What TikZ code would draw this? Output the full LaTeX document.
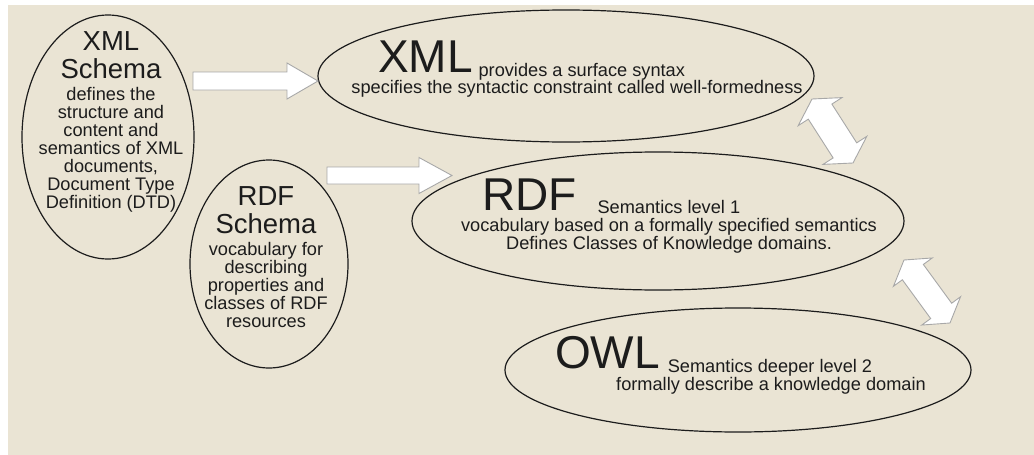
\documentclass[tikz,border=0pt]{standalone}
\usepackage{fontspec}
\setmainfont{Liberation Sans}
\usetikzlibrary{shapes.geometric,calc}
\definecolor{paper}{HTML}{EAE4D4}
\definecolor{ink}{HTML}{1C1C1C}
\definecolor{arrowedge}{HTML}{A8A8A8}
\begin{document}
\begin{tikzpicture}[x=1pt,y=-1pt,
  bubble/.style={ellipse, draw=ink, line width=1.2pt, inner sep=0pt, outer sep=0pt},
  label/.style={inner sep=0pt, outer sep=0pt, text=ink, anchor=base},
  titlefont/.style={font=\fontsize{27.5}{28}\selectfont},
  bodyfont/.style={font=\fontsize{18.2}{18}\selectfont},
  blockarrow/.style={fill=white, draw=arrowedge, line width=0.9pt, line join=miter}
]
% canvas
\useasboundingbox (0,0) rectangle (1034,455);
\fill[white] (0,0) rectangle (1034,455);
\fill[paper] (8,5) rectangle (1034,455);

% ellipses
\node[bubble, minimum width=172pt, minimum height=244pt] (xs) at (108,137) {};
\node[bubble, minimum width=158pt, minimum height=208pt] (rs) at (269,264) {};
\node[bubble, minimum width=496pt, minimum height=132pt] (xml) at (566,76) {};
\node[bubble, minimum width=492pt, minimum height=138pt] (rdf) at (658,221) {};
\node[bubble, minimum width=466pt, minimum height=124pt] (owl) at (738,370) {};

% XML Schema text (multi-line nodes sit on the baseline of their last line)
\node[label, titlefont, align=center] (xstitle) at (111,78) {XML\\Schema};
\node[label, bodyfont, align=center] (xsbody) at (111,208)
  {defines the\\structure and\\content and\\semantics of XML\\documents,\\Document Type\\Definition (DTD)};

% RDF Schema text
\node[label, titlefont, align=center] (rstitle) at (266,233) {RDF\\Schema};
\node[label, bodyfont, align=center] (rsbody) at (266,327)
  {vocabulary for\\describing\\properties and\\classes of RDF\\resources};

% XML text
\node[label, anchor=base west] (xmlhead) at (378,72)
  {\fontsize{46}{46}\selectfont XML\hspace{6pt}\raisebox{-4pt}{\fontsize{18.2}{18}\selectfont provides a surface syntax}};
\node[label, bodyfont] (xmlbody) at (577,93) {specifies the syntactic constraint called well-formedness};

% RDF text
\node[label, anchor=base west] (rdfhead) at (482,210)
  {\fontsize{46}{46}\selectfont RDF\hspace{21pt}\raisebox{-3pt}{\fontsize{18.2}{18}\selectfont Semantics level 1}};
\node[label, bodyfont, align=center] (rdfbody) at (669,249)
  {vocabulary based on a formally specified semantics\\Defines Classes of Knowledge domains.};

% OWL text
\node[label, anchor=base west] (owlhead) at (555,368)
  {\fontsize{46}{46}\selectfont OWL\hspace{8pt}\raisebox{-4pt}{\fontsize{18.2}{18}\selectfont Semantics deeper level 2}};
\node[label, bodyfont] (owlbody) at (771,390) {formally describe a knowledge domain};

% block arrows: schema -> language
\coordinate (a1s) at (193,81);
\coordinate (a1e) at (318,81);
\draw[blockarrow] ($(a1s)+(0,-9)$) -- ($(a1e)+(-31,-9)$) -- ($(a1e)+(-31,-18)$) -- (a1e)
  -- ($(a1e)+(-31,18)$) -- ($(a1e)+(-31,9)$) -- ($(a1s)+(0,9)$) -- cycle;
\coordinate (a2s) at (327,175.5);
\coordinate (a2e) at (452,175.5);
\draw[blockarrow] ($(a2s)+(0,-8.5)$) -- ($(a2e)+(-33,-8.5)$) -- ($(a2e)+(-33,-18)$) -- (a2e)
  -- ($(a2e)+(-33,18)$) -- ($(a2e)+(-33,8.5)$) -- ($(a2s)+(0,8.5)$) -- cycle;

% double arrows between layers
\coordinate (d1a) at (812,99);
\coordinate (d1b) at (853,163);
\coordinate (d1m) at ($(d1a)!15pt!(d1b)$);
\coordinate (d1n) at ($(d1b)!15pt!(d1a)$);
\draw[blockarrow] (d1a) -- ($(d1m)!26pt!90:(d1b)$) -- ($(d1m)!14pt!90:(d1b)$)
  -- ($(d1n)!14pt!-90:(d1a)$) -- ($(d1n)!26pt!-90:(d1a)$) -- (d1b)
  -- ($(d1n)!26pt!90:(d1a)$) -- ($(d1n)!14pt!90:(d1a)$)
  -- ($(d1m)!14pt!-90:(d1b)$) -- ($(d1m)!26pt!-90:(d1b)$) -- cycle;

\coordinate (d2a) at (904,260);
\coordinate (d2b) at (950,323);
\coordinate (d2m) at ($(d2a)!15pt!(d2b)$);
\coordinate (d2n) at ($(d2b)!15pt!(d2a)$);
\draw[blockarrow] (d2a) -- ($(d2m)!24pt!90:(d2b)$) -- ($(d2m)!13pt!90:(d2b)$)
  -- ($(d2n)!13pt!-90:(d2a)$) -- ($(d2n)!24pt!-90:(d2a)$) -- (d2b)
  -- ($(d2n)!24pt!90:(d2a)$) -- ($(d2n)!13pt!90:(d2a)$)
  -- ($(d2m)!13pt!-90:(d2b)$) -- ($(d2m)!24pt!-90:(d2b)$) -- cycle;
\end{tikzpicture}
\end{document}
